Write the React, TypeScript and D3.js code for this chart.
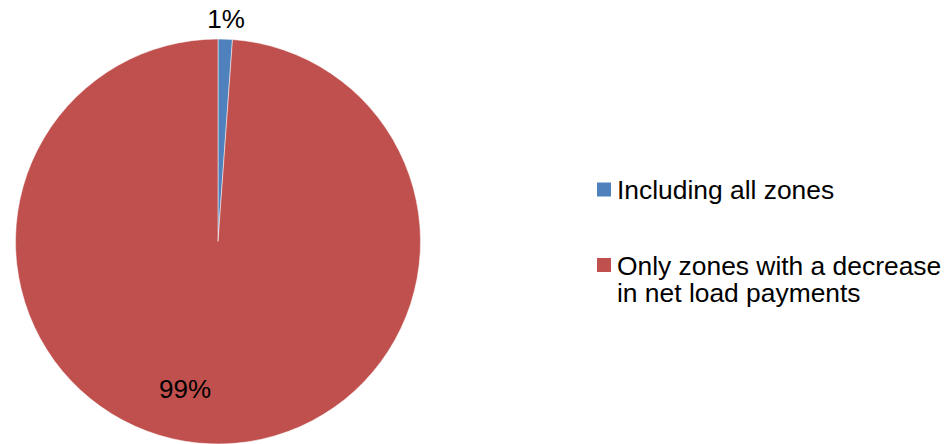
import React from "react";
import * as d3 from "d3";

const categories = ["Including all zones", "Only zones with a decrease in net load payments"];
const values = [1.14, 98.86];
const valueLabels = ["1%", "99%"];
const colors = ["#4F81BD", "#C0504D"];
const legendLines = [["Including all zones"], ["Only zones with a decrease", "in net load payments"]];

const W = 947;
const H = 444;
const cx = 218;
const cy = 241.5;
const R = 202.5;
const FONT = "'Liberation Sans', Arial, Helvetica, sans-serif";

export default function App() {
  const pie = d3.pie<number>().sort(null).value((d) => d);
  const arcs = pie(values);
  const arc = d3.arc<d3.PieArcDatum<number>>().innerRadius(0).outerRadius(R);

  const labelPos = [
    { x: cx, y: 28 },
    { x: 185, y: 398 },
  ];

  const legendY = [182.5, 258];

  return (
    <svg
      width={W}
      height={H}
      style={{ position: "absolute", left: 0, top: 0, display: "block", background: "#fff" }}
    >
      <g transform={`translate(${cx},${cy})`}>
        {arcs.map((a, i) => (
          <path key={categories[i]} d={arc(a) || ""} fill={colors[i]} stroke="#ffffff" strokeWidth={0.5} />
        ))}
      </g>
      {arcs.map((a, i) => {
        let x = labelPos[i].x;
        if (i === 0) {
          const mid = (a.startAngle + a.endAngle) / 2;
          x = cx + Math.sin(mid) * (R + 24);
        }
        return (
          <text
            key={"l" + i}
            x={x}
            y={labelPos[i].y}
            textAnchor="middle"
            fontFamily={FONT}
            fontSize={26}
            fill="#000"
          >
            {valueLabels[i]}
          </text>
        );
      })}
      {categories.map((c, i) => (
        <g key={"lg" + i}>
          <rect x={597} y={legendY[i]} width={14} height={14} fill={colors[i]} />
          <text x={617} y={legendY[i] + 16.5} fontFamily={FONT} fontSize={26.4} fill="#000">
            {legendLines[i].map((line, j) => (
              <tspan key={j} x={617} dy={j === 0 ? 0 : 27}>
                {line}
              </tspan>
            ))}
          </text>
        </g>
      ))}
    </svg>
  );
}
